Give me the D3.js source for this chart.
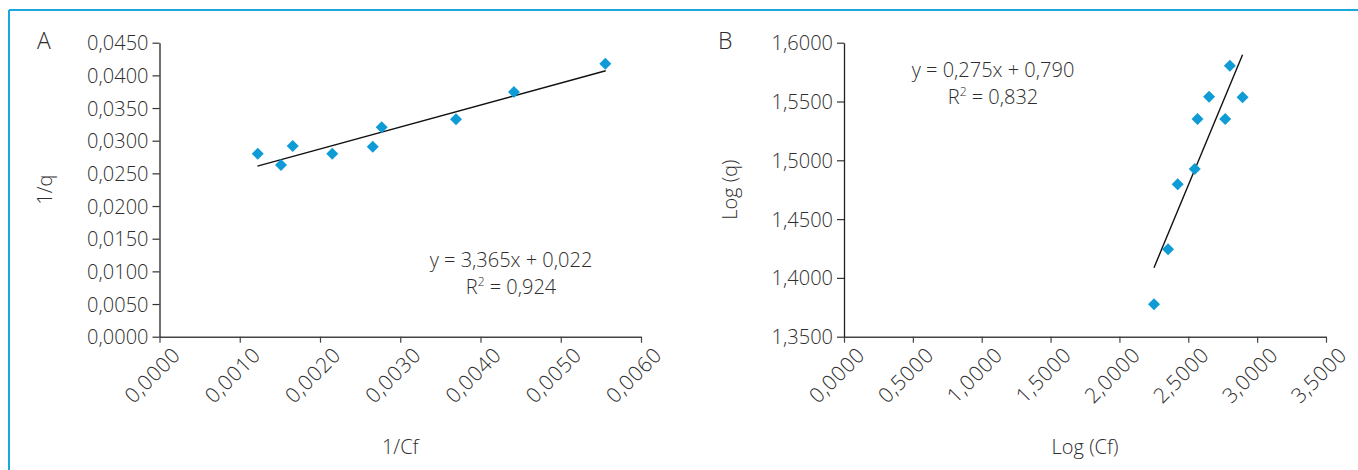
<!DOCTYPE html>
<html><head><meta charset="utf-8">
<script src="https://cdn.jsdelivr.net/npm/d3@7"></script>
<style>
html,body{margin:0;padding:0;background:#fff;}
svg text{font-family:"Open Sans",Lato,sans-serif;font-weight:300;fill:#2e2e2e;}
</style></head>
<body><svg id="c" width="1358" height="470"></svg>
<script>
// Panel A: 1/Cf vs 1/q
const aX = [0.001224, 0.001514, 0.00166, 0.002153, 0.002657, 0.002769, 0.003695, 0.004417, 0.005555];
const aY = [0.02801, 0.02628, 0.02919, 0.02801, 0.02908, 0.03205, 0.03328, 0.03746, 0.04179];
const aTrendX = [0.00122, 0.00556];
const aTrendY = [0.0261, 0.0407];
const aXTicks = [0, 0.001, 0.002, 0.003, 0.004, 0.005, 0.006];
const aYTicks = [0, 0.005, 0.01, 0.015, 0.02, 0.025, 0.03, 0.035, 0.04, 0.045];
const aEq = ["y = 3,365x + 0,022", "R", "2", " = 0,924"];

// Panel B: Log Cf vs Log q
const bX = [2.251, 2.353, 2.423, 2.547, 2.567, 2.651, 2.768, 2.802, 2.894];
const bY = [1.3776, 1.4243, 1.4796, 1.4926, 1.5351, 1.5541, 1.5351, 1.5804, 1.5536];
const bTrendX = [2.251, 2.894];
const bTrendY = [1.4087, 1.5898];
const bXTicks = [0, 0.5, 1, 1.5, 2, 2.5, 3, 3.5];
const bYTicks = [1.35, 1.4, 1.45, 1.5, 1.55, 1.6];
const bEq = ["y = 0,275x + 0,790", "R", "2", " = 0,832"];

const svg = d3.select("#c");
const blue = "#1ba6dc";
const markerColor = "#0f9cd6";
const FS = 20;

svg.append("line").attr("x1",9).attr("x2",1358).attr("y1",10).attr("y2",10).attr("stroke",blue).attr("stroke-width",2);
svg.append("line").attr("x1",9).attr("x2",9).attr("y1",10).attr("y2",470).attr("stroke",blue).attr("stroke-width",2);

const fmt = d => d3.format(".4f")(d).replace(".", ",");

function panel(o){
  const x = d3.scaleLinear().domain(o.xDom).range([o.left, o.right]);
  const y = d3.scaleLinear().domain(o.yDom).range([o.bottom, o.top]);
  const g = svg.append("g");
  const xa = g.append("g").attr("transform",`translate(0,${o.bottom})`)
    .call(d3.axisBottom(x).tickValues(o.xTicks).tickFormat(fmt).tickSize(6).tickSizeOuter(0));
  xa.select(".domain").attr("stroke","#444").attr("stroke-width",1.6);
  xa.selectAll(".tick line").attr("stroke","#444").attr("stroke-width",1.2);
  xa.selectAll(".tick text").attr("font-size",21).attr("text-anchor","end")
    .style("letter-spacing","0.6px")
    .attr("transform","translate(11,9) rotate(-45)").attr("dy","0.72em").attr("y",0);
  const ya = g.append("g").attr("transform",`translate(${o.left},0)`)
    .call(d3.axisLeft(y).tickValues(o.yTicks).tickFormat(fmt).tickSize(7).tickSizeOuter(0));
  ya.select(".domain").attr("stroke","#222").attr("stroke-width",1.3);
  ya.selectAll(".tick line").attr("stroke","#333").attr("stroke-width",1.2);
  ya.selectAll(".tick text").attr("font-size",FS).attr("x",-11).attr("dy","0.35em");
  g.selectAll("text").style("font-family",'"Open Sans",Lato,sans-serif').style("font-weight",300).attr("fill","#2e2e2e");

  g.append("line").attr("x1",x(o.tX[0])).attr("y1",y(o.tY[0])).attr("x2",x(o.tX[1])).attr("y2",y(o.tY[1]))
    .attr("stroke","#111").attr("stroke-width",1.4);
  const sym = d3.symbol().type(d3.symbolSquare).size(72);
  g.selectAll("path.pt").data(o.xs.map((v,i)=>[v,o.ys[i]])).join("path").attr("class","pt")
    .attr("d",sym).attr("fill",markerColor)
    .attr("transform",d=>`translate(${x(d[0])},${y(d[1])}) rotate(45)`);

  g.append("text").attr("x",o.letterX).attr("y",49).attr("font-size",23).text(o.letter);
  g.append("text").attr("x",(o.left+o.right)/2).attr("y",454).attr("text-anchor","middle").attr("font-size",FS).text(o.xTitle);
  g.append("text").attr("transform",`translate(${o.yTitleX},${(o.top+o.bottom)/2}) rotate(-90)`).attr("text-anchor","middle").attr("font-size",FS).text(o.yTitle);
  g.append("text").attr("x",o.eqX).attr("y",o.eqY).attr("text-anchor","middle").attr("font-size",FS).text(o.eq[0]);
  const t = g.append("text").attr("x",o.eqX).attr("y",o.eqY+27).attr("text-anchor","middle").attr("font-size",FS);
  t.append("tspan").text(o.eq[1]);
  t.append("tspan").attr("dy",-8).attr("font-size",12).text(o.eq[2]);
  t.append("tspan").attr("dy",8).text(o.eq[3]);
}

panel({xDom:[0,0.006], yDom:[0,0.045], left:159.5, right:641, top:42.7, bottom:336.7,
  xTicks:aXTicks, yTicks:aYTicks, xs:aX, ys:aY, tX:aTrendX, tY:aTrendY,
  letter:"A", letterX:37, xTitle:"1/Cf", yTitle:"1/q", yTitleX:52,
  eq:aEq, eqX:511, eqY:267});
panel({xDom:[0,3.5], yDom:[1.35,1.6], left:844, right:1326, top:42.7, bottom:336.7,
  xTicks:bXTicks, yTicks:bYTicks, xs:bX, ys:bY, tX:bTrendX, tY:bTrendY,
  letter:"B", letterX:718, xTitle:"Log (Cf)", yTitle:"Log (q)", yTitleX:737,
  eq:bEq, eqX:993, eqY:77});
</script></body></html>
